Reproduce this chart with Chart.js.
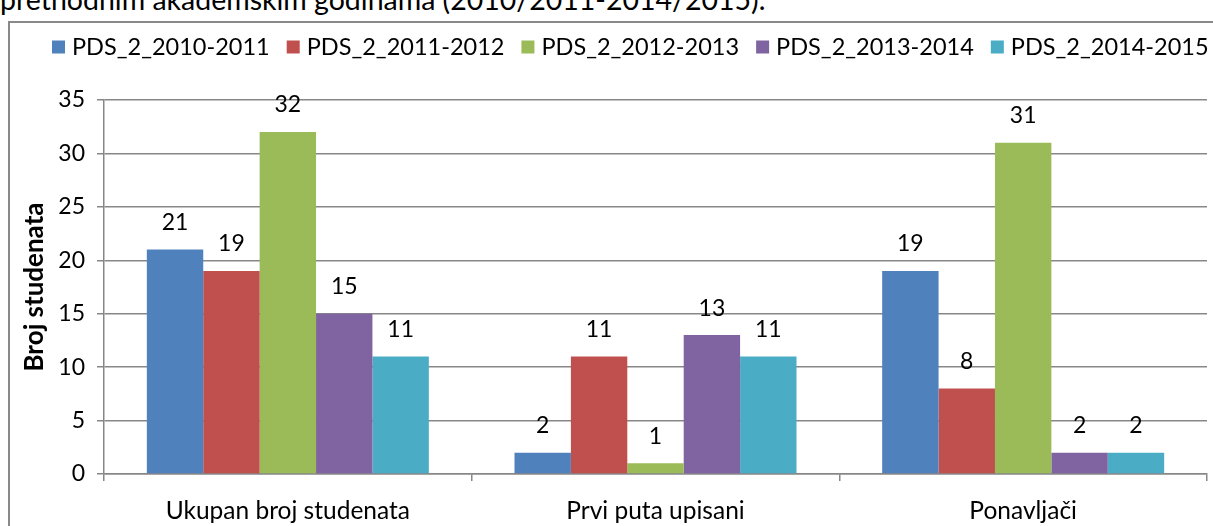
<!DOCTYPE html>
<html>
<head>
<meta charset="utf-8">
<script src="https://cdn.jsdelivr.net/npm/chart.js@4/dist/chart.umd.min.js"></script>
<style>
    body { margin: 0; width: 1213px; height: 526px; overflow: hidden; background: #fff; position: relative; }
    #caption { position: absolute; left: 0; top: -18px; font: 28.5px Lato, sans-serif; color: #000; white-space: nowrap; }
    #frame { position: absolute; left: 8px; top: 21px; width: 1300px; height: 600px; border: 2px solid #898989; }
    #wrap { position: absolute; left: 0; top: 0; width: 1213px; height: 526px; }
</style>
</head>
<body>
<div id="caption">prethodnim akademskim godinama (2010/2011-2014/2015).</div>
<div id="frame"></div>
<div id="wrap"><canvas id="myChart"></canvas></div>
<script>
const CATEGORIES = ["Ukupan broj studenata", "Prvi puta upisani", "Ponavljači"];
const SERIES_NAMES = ["PDS_2_2010-2011", "PDS_2_2011-2012", "PDS_2_2012-2013", "PDS_2_2013-2014", "PDS_2_2014-2015"];
const Y_2010_2011 = [21, 2, 19];
const Y_2011_2012 = [19, 11, 8];
const Y_2012_2013 = [32, 1, 31];
const Y_2013_2014 = [15, 13, 2];
const Y_2014_2015 = [11, 11, 2];
const COLORS = ["#4F81BD", "#C0504D", "#9BBB59", "#8064A2", "#4BACC6"];

const FONT = "Lato, 'Liberation Sans', sans-serif";
const GRID = "#878787";

// draws the value above each bar
const valueLabels = {
    id: "valueLabels",
    afterDatasetsDraw(chart) {
        const ctx = chart.ctx;
        ctx.save();
        ctx.font = "23px " + FONT;
        ctx.fillStyle = "#000";
        ctx.textAlign = "center";
        ctx.textBaseline = "middle";
        chart.data.datasets.forEach((ds, i) => {
            chart.getDatasetMeta(i).data.forEach((bar, j) => {
                ctx.fillText(String(ds.data[j]), bar.x, bar.y - 27);
            });
        });
        ctx.restore();
    },
};

// legend row like the office one: small square, short gap, name
const squareLegend = {
    id: "squareLegend",
    afterDraw(chart) {
        const ctx = chart.ctx;
        ctx.save();
        ctx.font = "23.5px " + FONT;
        ctx.textBaseline = "middle";
        ctx.textAlign = "left";
        let x = 52;
        const y = 47;
        chart.data.datasets.forEach((ds) => {
            ctx.fillStyle = ds.backgroundColor;
            ctx.fillRect(x, y - 6.5, 13, 13);
            ctx.fillStyle = "#000";
            ctx.fillText(ds.label, x + 20, y);
            x += 20 + ctx.measureText(ds.label).width + 17;
        });
        ctx.restore();
    },
};

const allSeries = [Y_2010_2011, Y_2011_2012, Y_2012_2013, Y_2013_2014, Y_2014_2015];

const config = {
    type: "bar",
    data: {
        labels: CATEGORIES,
        datasets: allSeries.map((vals, i) => ({
            label: SERIES_NAMES[i],
            data: vals,
            backgroundColor: COLORS[i],
            borderWidth: 0,
            categoryPercentage: 0.767,
            barPercentage: 1.0,
        })),
    },
    options: {
        responsive: true,
        maintainAspectRatio: false,
        animation: false,
        layout: { padding: { top: 100, right: 6, bottom: 0, left: 0 } },
        plugins: {
            legend: { display: false },
            tooltip: { enabled: false },
        },
        scales: {
            x: {
                grid: { display: true, drawOnChartArea: false, offset: true, color: GRID, lineWidth: 1.5, tickLength: 7 },
                border: { color: GRID, width: 1.5 },
                ticks: { font: { family: FONT, size: 24.5 }, color: "#000", padding: 15, maxRotation: 0 },
                afterFit(scale) { scale.height = 52; },
            },
            y: {
                min: 0,
                max: 35,
                ticks: { stepSize: 5, font: { family: FONT, size: 23 }, color: "#000", padding: 12 },
                grid: { color: GRID, lineWidth: 1.5, tickLength: 7 },
                border: { color: GRID, width: 1.5 },
                title: {
                    display: true,
                    text: "Broj studenata",
                    font: { family: FONT, size: 26, weight: "bold" },
                    color: "#000",
                    padding: { top: 19, bottom: 0 },
                },
                afterFit(scale) { scale.width = 104; },
            },
        },
    },
    plugins: [valueLabels, squareLegend],
};

var ctx = document.getElementById("myChart").getContext("2d");
var myChart = new Chart(ctx, config);
</script>
</body>
</html>
